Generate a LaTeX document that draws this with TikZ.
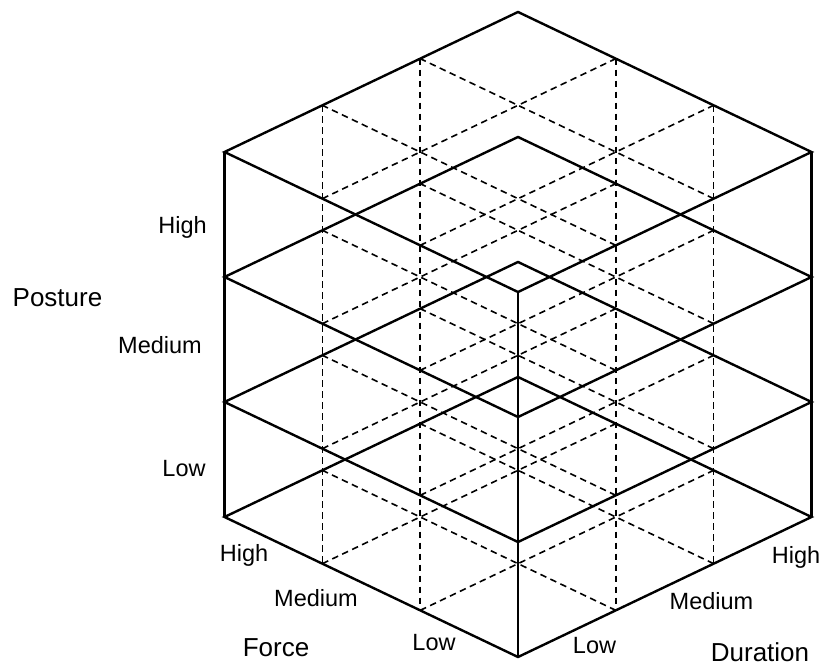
\documentclass[tikz,border=0pt]{standalone}
\usepackage{fontspec}
\setmainfont{Liberation Sans}
\usetikzlibrary{positioning}
\tikzset{
frame/.style={
  line width=2.4pt,
  line join=miter
  },
grid/.style={
  line width=1.6pt,
  dash pattern=on 6.5pt off 4.5pt
  },
lvl/.style={
  anchor=base,
  inner sep=0pt,
  font=\fontsize{23.5}{28}\selectfont
  },
axis/.style={
  anchor=base,
  inner sep=0pt,
  font=\fontsize{26}{30}\selectfont
  }
}
\begin{document}
\begin{tikzpicture}[x=1pt,y=-1pt]
    \useasboundingbox (0,0) rectangle (821,667);
    % corner points of the 3x3x3 grid: p<force><duration><posture>
    \foreach \c/\h in {0/0,1/115,2/240,3/365}
      \foreach \a in {0,...,3}
        \foreach \b in {0,...,3}
          \coordinate (p\a\b\c) at ({518+97.83*(\b-\a)},{657-46.67*(\a+\b)-\h});
    % dashed grid in every layer
    \foreach \c in {0,...,3}
      \foreach \i in {1,2} {
        \draw[grid] (p\i0\c) -- (p\i3\c);
        \draw[grid] (p0\i\c) -- (p3\i\c);
      }
    % dashed verticals
    \draw[grid] (p313) -- (p200);
    \draw[grid] (p323) -- (p100);
    \draw[grid] (p133) -- (p020);
    \draw[grid] (p233) -- (p010);
    % layers and edges
    \foreach \c in {0,...,3}
      \draw[frame] (p00\c) -- (p30\c) -- (p33\c) -- (p03\c) -- cycle;
    \draw[frame] (p300) -- (p303);
    \draw[frame] (p030) -- (p033);
    \draw[frame] (p000) -- (p003);
    % labels
    \node[axis] (posture)  at (57.5,306.7) {Posture};
    \node[lvl]  (phigh)    at (182.5,233) {High};
    \node[lvl]  (pmed)     at (160,353) {Medium};
    \node[lvl]  (plow)     at (184,476) {Low};
    \node[lvl]  (fhigh)    at (244,561.7) {High};
    \node[lvl]  (fmed)     at (316,606.7) {Medium};
    \node[lvl]  (flow)     at (434,650) {Low};
    \node[axis] (force)    at (276,656.7) {Force};
    \node[lvl]  (dlow)     at (594.5,653) {Low};
    \node[lvl]  (dmed)     at (711.5,609) {Medium};
    \node[lvl]  (dhigh)    at (796,563) {High};
    \node[axis] (duration) at (760,661.7) {Duration};
\end{tikzpicture}
\end{document}
